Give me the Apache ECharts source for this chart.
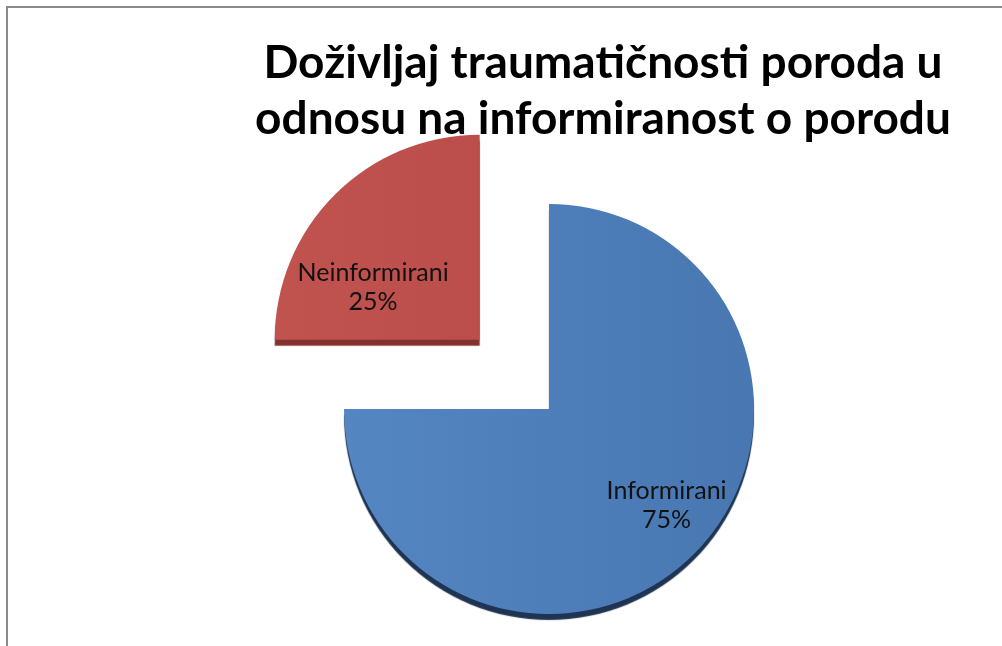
<!DOCTYPE html>
<html lang="hr">
<head>
    <meta charset="UTF-8">
    <title>Doživljaj traumatičnosti poroda</title>
    <script src="https://cdn.jsdelivr.net/npm/echarts@6/dist/echarts.min.js"></script>
    <style>
        html, body { margin: 0; padding: 0; background: #fff; }
        #main { position: absolute; left: 0; top: 0; width: 1002px; height: 646px; }
        /* okvir grafikona */
        #frame { position: absolute; left: 6px; top: 6px; width: 1010px; height: 660px;
                 border-top: 2px solid #8a8a8a; border-left: 2px solid #8a8a8a; pointer-events: none; }
    </style>
</head>
<body>
<div id="main"></div>
<div id="frame"></div>
<script>
    // podaci
    var titleText = 'Doživljaj traumatičnosti poroda u\nodnosu na informiranost o porodu';
    var categories = ['Informirani', 'Neinformirani'];
    var values = [75, 25];

    var sliceStyles = [
        {
            color: { type: 'linear', x: 0, y: 0, x2: 1, y2: 0,
                colorStops: [{ offset: 0, color: '#5486c2' }, { offset: 1, color: '#4877b1' }] },
            shadowColor: '#1e3452',
            labelPad: [0, 0, 0, 86]
        },
        {
            color: { type: 'linear', x: 0, y: 0, x2: 1, y2: 0,
                colorStops: [{ offset: 0, color: '#c1534f' }, { offset: 1, color: '#bb4e4b' }] },
            shadowColor: '#84302e',
            labelPad: [0, 64, 0, 0]
        }
    ];

    var myChart = echarts.init(document.getElementById('main'));

    myChart.setOption({
        animation: false,
        title: {
            text: titleText,
            left: 598,
            top: 30,
            textAlign: 'center',
            textStyle: {
                fontFamily: 'Lato',
                fontWeight: 'bold',
                fontSize: 46,
                lineHeight: 56,
                color: '#000'
            }
        },
        series: [
            {
                type: 'pie',
                center: [549, 409],
                radius: 205,
                startAngle: 90,
                clockwise: true,
                selectedMode: 'single',
                selectedOffset: 98,
                silent: true,
                emphasis: { disabled: true, scale: false },
                label: {
                    show: true,
                    position: 'inside',
                    formatter: '{gap|}\n{b}\n{d}%',
                    fontFamily: 'Lato',
                    fontSize: 25,
                    lineHeight: 29,
                    color: '#111',
                    align: 'center',
                    rich: {
                        gap: { height: 44, lineHeight: 44 }
                    }
                },
                labelLine: { show: false },
                data: categories.map(function (name, i) {
                    var s = sliceStyles[i];
                    return {
                        name: name,
                        value: values[i],
                        selected: i === 1,
                        itemStyle: {
                            color: s.color,
                            shadowColor: s.shadowColor,
                            shadowBlur: 1,
                            shadowOffsetX: 0,
                            shadowOffsetY: 6
                        },
                        label: { padding: s.labelPad }
                    };
                })
            }
        ]
    });
</script>
</body>
</html>
